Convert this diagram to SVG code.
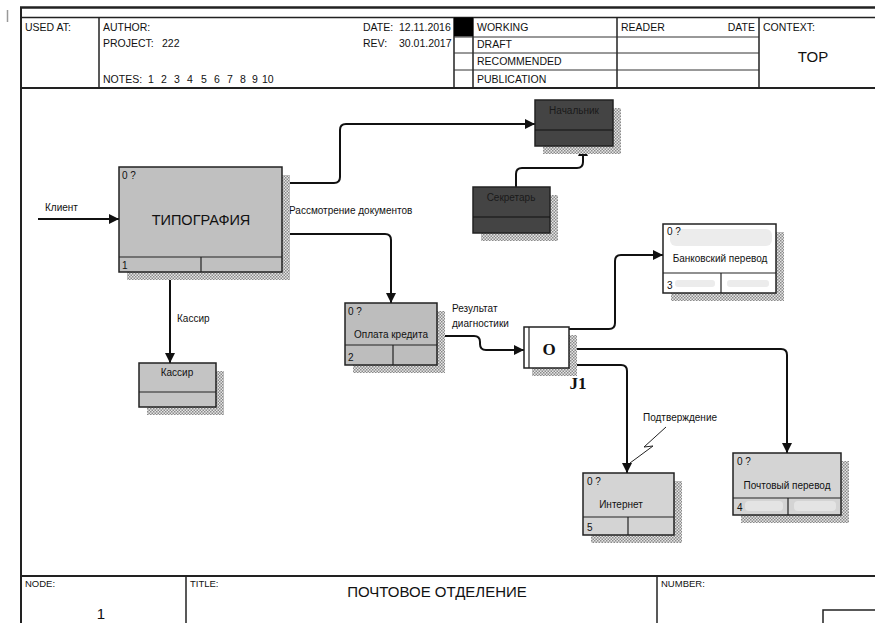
<svg xmlns="http://www.w3.org/2000/svg" width="875" height="623" viewBox="0 0 875 623">
<defs>
<style>
.t{font-family:"Liberation Sans",Arial,sans-serif;fill:#111}
.h{font-size:10.5px}
.s{font-size:10px}
.fr{fill:none;stroke:#222;stroke-width:1.5}
.thin{fill:none;stroke:#333;stroke-width:1}
.bx{stroke:#222;stroke-width:1.5}
.dv{stroke:#222;stroke-width:1.2;fill:none}
.cn{fill:none;stroke:#111;stroke-width:2;marker-end:url(#ah)}
.jf{font-family:"Liberation Serif","Times New Roman",serif;font-weight:bold;font-size:17px;fill:#111}
</style>
<pattern id="dots" width="3" height="3" patternUnits="userSpaceOnUse">
<rect width="3" height="3" fill="#e6e6e6"/>
<rect width="1.5" height="1.5" fill="#8a8a8a"/>
<rect x="1.5" y="1.5" width="1.5" height="1.5" fill="#8a8a8a"/>
</pattern>
<marker id="ah" viewBox="0 0 10 10" refX="10" refY="5" markerWidth="11" markerHeight="10" markerUnits="userSpaceOnUse" orient="auto">
<path d="M0,0 L10,5 L0,10 z" fill="#111"/>
</marker>
</defs>
<rect width="875" height="623" fill="#fff"/>

<g id="frame">
<line x1="7.5" y1="10" x2="7.5" y2="22" stroke="#999" stroke-width="1.5"/>
<line x1="20" y1="7.5" x2="875" y2="7.5" stroke="#222" stroke-width="2.5"/>
<line x1="21" y1="7" x2="21" y2="623" stroke="#222" stroke-width="2"/>
<line x1="21" y1="17.5" x2="875" y2="17.5" class="fr"/>
<line x1="21" y1="88" x2="875" y2="88" stroke="#222" stroke-width="2"/>
<line x1="99" y1="17" x2="99" y2="88" class="fr"/>
<line x1="454" y1="17" x2="454" y2="88" class="fr"/>
<line x1="473" y1="17" x2="473" y2="88" class="fr"/>
<line x1="617" y1="17" x2="617" y2="88" class="fr"/>
<line x1="759" y1="17" x2="759" y2="88" class="fr"/>
<rect x="454" y="17.5" width="19" height="19" fill="#000"/>
<line x1="454" y1="37" x2="759" y2="37" class="thin"/>
<line x1="454" y1="53" x2="759" y2="53" class="thin"/>
<line x1="454" y1="70" x2="759" y2="70" class="thin"/>
<text class="t h" x="25" y="31">USED AT:</text>
<text class="t h" x="103" y="31">AUTHOR:</text>
<text class="t h" x="103" y="47">PROJECT:</text>
<text class="t h" x="162" y="47">222</text>
<text class="t h" x="103" y="83">NOTES:<tspan x="148">1</tspan><tspan x="161">2</tspan><tspan x="174">3</tspan><tspan x="187">4</tspan><tspan x="201">5</tspan><tspan x="214">6</tspan><tspan x="227">7</tspan><tspan x="240">8</tspan><tspan x="252">9</tspan><tspan x="262">10</tspan></text>
<text class="t h" x="363" y="31">DATE:</text>
<text class="t h" x="399" y="31">12.11.2016</text>
<text class="t h" x="363" y="47">REV:</text>
<text class="t h" x="399" y="47">30.01.2017</text>
<text class="t h" x="477" y="31">WORKING</text>
<text class="t h" x="477" y="48">DRAFT</text>
<text class="t h" x="477" y="65">RECOMMENDED</text>
<text class="t h" x="477" y="83">PUBLICATION</text>
<text class="t h" x="621" y="31">READER</text>
<text class="t h" x="755" y="31" text-anchor="end">DATE</text>
<text class="t h" x="763" y="31">CONTEXT:</text>
<text class="t" x="813" y="62" font-size="15" text-anchor="middle">TOP</text>

<line x1="21" y1="576" x2="875" y2="576" stroke="#222" stroke-width="2"/>
<line x1="186" y1="576" x2="186" y2="623" class="fr"/>
<line x1="657" y1="576" x2="657" y2="623" class="fr"/>
<path d="M875,610 H823 V623" class="fr"/>
<text class="t" x="25" y="587" font-size="9.5">NODE:</text>
<text class="t" x="190" y="587" font-size="9.5">TITLE:</text>
<text class="t" x="661" y="587" font-size="9.5">NUMBER:</text>
<text class="t" x="437" y="597" font-size="15" text-anchor="middle">ПОЧТОВОЕ ОТДЕЛЕНИЕ</text>
<text class="t" x="101" y="619" font-size="15" text-anchor="middle">1</text>
</g>

<g id="connectors">
<path class="cn" d="M38,219 H119"/>
<path class="cn" d="M282,183 H334 Q340,183 340,177 V130 Q340,124 346,124 H535"/>
<path class="cn" d="M282,234 H385 Q391,234 391,240 V303"/>
<path class="cn" d="M170,272 V363"/>
<path class="cn" d="M516,187 V174 Q516,168 522,168 H577 Q583,168 583,162 V146"/>
<path class="cn" d="M437,336 H474 Q480,336 480,342 V344 Q480,350 486,350 H524"/>
<path class="cn" d="M569,329 H609 Q615,329 615,323 V261 Q615,255 621,255 H663"/>
<path class="cn" d="M569,349 H781 Q787,349 787,355 V453"/>
<path class="cn" d="M569,365 H621 Q627,365 627,371 V473"/>
<path d="M666,427 L644,447 L653,446 L630,463" fill="none" stroke="#222" stroke-width="1"/>
<text class="t s" x="45" y="211">Клиент</text>
<text class="t s" x="289" y="214">Рассмотрение документов</text>
<text class="t s" x="177" y="322">Кассир</text>
<text class="t s" x="452" y="312">Результат</text>
<text class="t s" x="452" y="327">диагностики</text>
<text class="t s" x="643" y="421">Подтверждение</text>
</g>

<g id="node-tipografiya">
<rect x="127" y="175" width="163" height="105" fill="url(#dots)"/>
<rect x="119" y="167" width="163" height="105" fill="#c0c0c0" class="bx"/>
<line x1="119" y1="257" x2="282" y2="257" class="dv"/>
<line x1="201" y1="257" x2="201" y2="272" class="dv"/>
<text class="t s" x="122" y="179">0 ?</text>
<text class="t s" x="122" y="269">1</text>
<text class="t" x="201" y="225" font-size="14.5" text-anchor="middle">ТИПОГРАФИЯ</text>
</g>

<g id="node-nachalnik">
<rect x="543" y="108" width="78" height="46" fill="url(#dots)"/>
<rect x="535" y="100" width="78" height="46" fill="#444" class="bx"/>
<line x1="535" y1="130" x2="613" y2="130" stroke="#111" stroke-width="1.2"/>
<text x="574" y="114" font-family="Liberation Sans,Arial,sans-serif" font-size="10" fill="#1a1a1a" text-anchor="middle">Начальник</text>
</g>

<g id="node-sekretar">
<rect x="481" y="195" width="77" height="46" fill="url(#dots)"/>
<rect x="473" y="187" width="77" height="46" fill="#444" class="bx"/>
<line x1="473" y1="217" x2="550" y2="217" stroke="#111" stroke-width="1.2"/>
<text x="511" y="201" font-family="Liberation Sans,Arial,sans-serif" font-size="10" fill="#1a1a1a" text-anchor="middle">Секретарь</text>
</g>

<g id="node-kassir">
<rect x="147" y="371" width="77" height="44" fill="url(#dots)"/>
<rect x="139" y="363" width="77" height="44" fill="#c4c4c4" class="bx"/>
<line x1="139" y1="392" x2="216" y2="392" class="dv"/>
<text class="t s" x="177" y="376" text-anchor="middle">Кассир</text>
</g>

<g id="node-oplata">
<rect x="353" y="311" width="92" height="62" fill="url(#dots)"/>
<rect x="345" y="303" width="92" height="62" fill="#bdbdbd" class="bx"/>
<line x1="345" y1="345" x2="437" y2="345" class="dv"/>
<line x1="393" y1="345" x2="393" y2="365" class="dv"/>
<text class="t s" x="348" y="315">0 ?</text>
<text class="t s" x="348" y="361">2</text>
<text class="t s" x="391" y="338" text-anchor="middle">Оплата кредита</text>
</g>

<g id="node-j1">
<rect x="532" y="335" width="45" height="41" fill="url(#dots)"/>
<rect x="524" y="327" width="45" height="41" fill="#fff" class="bx"/>
<line x1="529" y1="327" x2="529" y2="368" class="dv"/>
<text class="jf" x="549" y="355" text-anchor="middle">O</text>
<text class="jf" x="578" y="389" text-anchor="middle">J1</text>
</g>

<g id="node-bank">
<rect x="671" y="232" width="113" height="69" fill="url(#dots)"/>
<rect x="663" y="224" width="113" height="69" fill="#fff" class="bx"/>
<rect x="670" y="229" width="102" height="17" rx="6" fill="#ececec"/>
<rect x="675" y="280" width="40" height="7" rx="3" fill="#ececec"/>
<rect x="727" y="280" width="42" height="7" rx="3" fill="#ececec"/>
<line x1="663" y1="273" x2="776" y2="273" class="dv"/>
<line x1="721" y1="273" x2="721" y2="293" class="dv"/>
<text class="t s" x="667" y="235">0 ?</text>
<text class="t s" x="667" y="289">3</text>
<text class="t s" x="720" y="262" text-anchor="middle">Банковский перевод</text>
</g>

<g id="node-internet">
<rect x="591" y="481" width="91" height="62" fill="url(#dots)"/>
<rect x="583" y="473" width="91" height="62" fill="#d4d4d4" class="bx"/>
<line x1="583" y1="517" x2="674" y2="517" class="dv"/>
<line x1="628" y1="517" x2="628" y2="535" class="dv"/>
<text class="t s" x="587" y="485">0 ?</text>
<text class="t s" x="587" y="531">5</text>
<text class="t s" x="621" y="508" text-anchor="middle">Интернет</text>
</g>

<g id="node-pochta">
<rect x="741" y="461" width="108" height="62" fill="url(#dots)"/>
<rect x="733" y="453" width="108" height="62" fill="#d4d4d4" class="bx"/>
<rect x="745" y="501" width="38" height="10" rx="4" fill="#e4e4e4"/>
<rect x="794" y="501" width="42" height="10" rx="4" fill="#e4e4e4"/>
<line x1="733" y1="498" x2="841" y2="498" class="dv"/>
<line x1="788" y1="498" x2="788" y2="515" class="dv"/>
<text class="t s" x="737" y="465">0 ?</text>
<text class="t s" x="737" y="511">4</text>
<text class="t s" x="787" y="489" text-anchor="middle">Почтовый перевод</text>
</g>
</svg>
